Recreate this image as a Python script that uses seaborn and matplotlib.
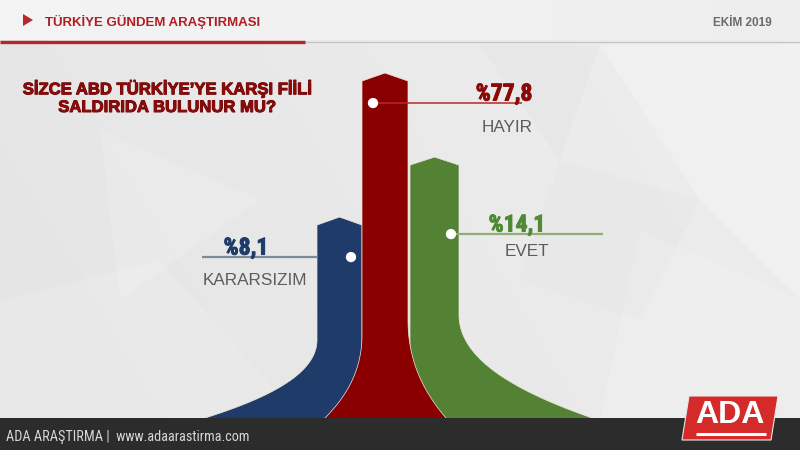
import numpy as np
import matplotlib
matplotlib.use("Agg")
import matplotlib.pyplot as plt
from matplotlib import font_manager
from matplotlib.patches import Polygon
import matplotlib.patheffects as pe
import seaborn as sns

# ---------------- data ----------------
categories = ["KARARSIZIM", "HAYIR", "EVET"]
percent_values = [8.1, 77.8, 14.1]
value_labels = ["%8,1", "%77,8", "%14,1"]
question_lines = ["SİZCE ABD TÜRKİYE’YE KARŞI FİİLİ", "SALDIRIDA BULUNUR MU?"]
header_title = "TÜRKİYE GÜNDEM ARAŞTIRMASI"
header_date = "EKİM 2019"
footer_text = "ADA ARAŞTIRMA |  www.adaarastirma.com"
logo_text = "ADA"

# ---------------- styles / layout ----------------
bar_colors = {"KARARSIZIM": "#1f3b69", "HAYIR": "#8a0000", "EVET": "#548235"}
value_colors = {"KARARSIZIM": "#1f3b69", "HAYIR": "#8a0a0a", "EVET": "#4f8a33"}
line_colors = {"KARARSIZIM": "#7d8995", "HAYIR": "#b52a2a", "EVET": "#8fae78"}
line_widths = {"KARARSIZIM": 1.6, "HAYIR": 1.1, "EVET": 1.6}

# bar geometry in pixel space (x left/right, flare widths and flare start heights)
layout = {
    "KARARSIZIM": dict(L=317, R=362, fl=(112, 78), fr=None, dot_dx=34, dot_dy=32,
                       line=(202, 317), val=(246,), cat=(255, 16), z=2),
    "HAYIR": dict(L=362, R=408, fl=(37, 83), fr=(38, 98), dot_dx=11, dot_dy=22,
                  line=(373, 522), val=(504,), cat=(507, 17), z=4),
    "EVET": dict(L=410, R=459, fl=None, fr=(133, 103), dot_dx=41, dot_dy=69,
                 line=(451, 603), val=(517,), cat=(527, 10), z=3),
}
BOTTOM = 418


def bar_height(v):
    # compressed display scale of the infographic
    return 369.3 - 846.8 * v ** -0.75


def pick_font(cands, default):
    names = {f.name for f in font_manager.fontManager.ttflist}
    for c in cands:
        if c in names:
            return c
    return default


narrow = pick_font(["Liberation Sans Narrow", "Roboto Condensed", "Open Sans Condensed"], None)
sans = pick_font(["Liberation Sans", "Arial"], "DejaVu Sans")

sns.set_theme(style="white")
plt.rcParams["font.family"] = [sans, "DejaVu Sans"]

fig = plt.figure(figsize=(8, 4.5), dpi=100)
ax = fig.add_axes([0, 0, 1, 1])

# ---------------- background ----------------
yy, xx = np.mgrid[0:450, 0:800]
bg = 0.905 + 0.03 * (xx / 800.0) - 0.01 * (yy / 450.0)
bg = np.where(yy < 40, 0.955 - 0.02 * (xx / 800.0), bg)
ax.imshow(np.dstack([bg, bg, bg]), extent=(0, 800, 450, 0), zorder=0, interpolation="bilinear")
facets = [
    ([(600, 45), (800, 45), (800, 300), (700, 200)], "#ffffff", 0.22),
    ([(640, 230), (800, 300), (800, 418), (600, 418)], "#ffffff", 0.15),
    ([(0, 300), (160, 260), (300, 418), (0, 418)], "#ffffff", 0.12),
    ([(480, 45), (600, 45), (560, 160)], "#d8d8d8", 0.18),
    ([(100, 130), (260, 200), (120, 300)], "#ffffff", 0.14),
    ([(560, 160), (700, 200), (640, 320), (520, 280)], "#dadada", 0.12),
]
for pts, c, a in facets:
    ax.add_patch(Polygon(pts, closed=True, facecolor=c, edgecolor="none", alpha=a, zorder=0.5))


def bezier(p0, p1, p2, p3, n=50):
    t = np.linspace(0, 1, n)[:, None]
    p0, p1, p2, p3 = map(np.asarray, (p0, p1, p2, p3))
    return ((1 - t) ** 3) * p0 + 3 * ((1 - t) ** 2) * t * p1 + 3 * (1 - t) * t ** 2 * p2 + t ** 3 * p3


def flare(edge_x, dx_signed, start_h):
    ys = BOTTOM - start_h
    return bezier((edge_x, ys), (edge_x, ys + 0.45 * start_h),
                  (edge_x + 0.47 * dx_signed, BOTTOM - 0.24 * start_h),
                  (edge_x + dx_signed, BOTTOM))


dot_x, dot_y = [], []
for cat, val, lab in zip(categories, percent_values, value_labels):
    g = layout[cat]
    L, R = g["L"], g["R"]
    shoulder = BOTTOM - bar_height(val)
    peak = shoulder - 8
    verts = []
    if g["fl"]:
        verts += list(flare(L, -g["fl"][0], g["fl"][1])[::-1])
    else:
        verts.append((L, BOTTOM + 2))
    verts += [(L, shoulder), ((L + R) / 2, peak), (R, shoulder)]
    if g["fr"]:
        verts += list(flare(R, g["fr"][0], g["fr"][1]))
    else:
        verts.append((R, BOTTOM + 2))
    verts = [(x, y) for x, y in verts]
    verts.append((verts[-1][0], BOTTOM + 3))
    verts.append((verts[0][0], BOTTOM + 3))
    ax.add_patch(Polygon(verts, closed=True, facecolor=bar_colors[cat],
                         edgecolor="#efe6d6", linewidth=0.5, zorder=g["z"]))

    dy = shoulder + g["dot_dy"]
    dx = L + g["dot_dx"]
    dot_x.append(dx)
    dot_y.append(dy)
    x0, x1 = g["line"]
    ax.plot([x0, x1], [dy, dy], color=line_colors[cat], lw=line_widths[cat],
            solid_capstyle="butt", zorder=5)
    vfam = [narrow, sans, "DejaVu Sans"] if narrow else [sans, "DejaVu Sans"]
    ax.text(g["val"][0], dy - 2.5, lab, ha="center", va="baseline",
            fontsize=17 if narrow else 14.5, fontweight="bold", family=vfam,
            color=value_colors[cat], zorder=6,
            path_effects=[pe.withStroke(linewidth=0.7, foreground=value_colors[cat])])
    ax.text(g["cat"][0], dy + g["cat"][1], cat, ha="center", va="top",
            fontsize=12.3, color="#5c5c5c", zorder=6)

sns.scatterplot(x=dot_x, y=dot_y, ax=ax, color="white", s=55, edgecolor="none",
                legend=False, zorder=7)

# ---------------- header ----------------
ax.add_patch(Polygon([(23, 14), (33, 20), (23, 26)], closed=True,
                     facecolor="#b5282a", edgecolor="none", zorder=6))
ax.text(45, 22, header_title, ha="left", va="center", fontsize=9.5,
        fontweight="bold", color="#b01e23", zorder=6)
ax.text(772, 23, header_date, ha="right", va="center", fontsize=8.5,
        fontweight="bold", color="#6b6b6b", zorder=6)
ax.plot([305, 800], [41.5, 41.5], color="#c4c4c4", lw=0.9, zorder=5)
ax.plot([0, 305], [41.5, 41.5], color="#b3262b", lw=2.4, solid_capstyle="butt", zorder=6)

# question
for i, line in enumerate(question_lines):
    ax.text(167, 88.5 + 19 * i, line, ha="center", va="center", fontsize=12,
            fontweight="bold", color="#8b0a0a", zorder=6,
            path_effects=[pe.withStroke(linewidth=0.7, foreground="#6a0000")])

# ---------------- footer ----------------
ax.add_patch(Polygon([(0, 418), (800, 418), (800, 450), (0, 450)], closed=True,
                     facecolor="#2c2c2c", edgecolor="none", zorder=8))
ffam = [narrow, sans] if narrow else [sans]
ax.text(6, 437, footer_text, ha="left", va="center",
        fontsize=10.3 if narrow else 8.6, family=ffam, color="#d6d6d6", zorder=9)
ax.add_patch(Polygon([(689, 396), (778, 396), (771, 440), (682, 440)], closed=True,
                     facecolor="#d42a2a", edgecolor="#e8e8e8", linewidth=0.8, zorder=9))
ax.text(730, 415, logo_text, ha="center", va="center", fontsize=23,
        fontweight="bold", color="white", zorder=10)
ax.plot([696, 766], [433.5, 433.5], color="white", lw=2.2, solid_capstyle="butt", zorder=10)

ax.set_xlim(0, 800)
ax.set_ylim(450, 0)
ax.axis("off")
fig.savefig("out.png", dpi=100)
